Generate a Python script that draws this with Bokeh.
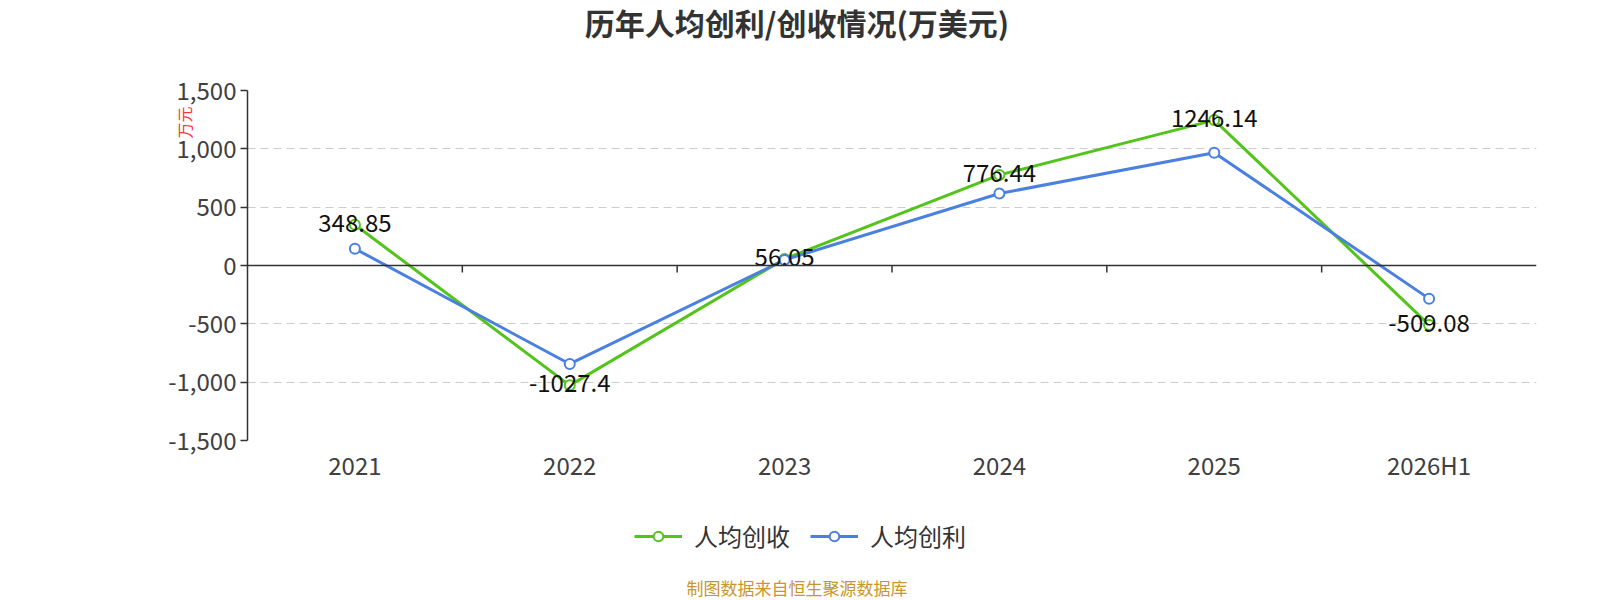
from bokeh.plotting import figure
from bokeh.models import (Range1d, FixedTicker, NumeralTickFormatter, Span, Div,
                          Legend, LegendItem, Title, ColumnDataSource)
from bokeh.layouts import column
from bokeh.embed import file_html
from bokeh.resources import INLINE
from bokeh.core.properties import value
import math

categories = ["2021", "2022", "2023", "2024", "2025", "2026H1"]
revenue_per_capita = [348.85, -1027.4, 56.05, 776.44, 1246.14, -509.08]
profit_per_capita = [144, -844, 48, 617, 967, -284]
y_ticks = [-1500, -1000, -500, 0, 500, 1000, 1500]
series_names = ["人均创收", "人均创利"]

FONT = "Noto Sans CJK SC"
GREEN = "#52c41a"
BLUE = "#4a80e0"
W = 1584
MBL, MBR = 247, 48

xs = [i + 0.5 for i in range(len(categories))]
boundaries = list(range(1, len(categories)))

title_div = Div(text="历年人均创利/创收情况(万美元)", width=W, height=35,
                styles={"text-align": "center", "font-size": "30px", "line-height": "34px",
                        "font-weight": "bold", "color": "#333333", "font-family": FONT})

p = figure(width=W, height=442, output_backend="svg", toolbar_location=None,
           x_range=Range1d(0, len(categories)), y_range=Range1d(-1500, 1500),
           min_border_left=MBL, min_border_right=MBR, min_border_top=45,
           min_border_bottom=47)
p.outline_line_color = None
p.background_fill_color = "white"
p.border_fill_color = "white"

# y axis
ya = p.yaxis[0]
ya.ticker = FixedTicker(ticks=y_ticks)
ya.formatter = NumeralTickFormatter(format="0,0")
ya.major_label_text_font = FONT
ya.major_label_text_font_size = "24px"
ya.major_label_text_color = "#404040"
ya.axis_line_color = "#333333"
ya.axis_line_width = 1.5
ya.major_tick_line_color = "#333333"
ya.major_tick_line_width = 1.5
ya.major_tick_out = 7
ya.major_tick_in = 0
ya.minor_tick_line_color = None
ya.major_label_standoff = 4

# y axis name (red, rotated, near the top)
yname = Title(text="万元", align="right", text_font=FONT, text_font_size="16px",
              text_font_style="normal", text_color="#ff3333", standoff=0)
try:
    yname.offset = 16
except Exception:
    pass
try:
    yname.standoff = -60
except Exception:
    pass
p.add_layout(yname, "left")

# x axis (labels only)
xa = p.xaxis[0]
xa.ticker = FixedTicker(ticks=xs)
xa.major_label_overrides = {x: c for x, c in zip(xs, categories)}
xa.major_label_text_font = FONT
xa.major_label_text_font_size = "24px"
xa.major_label_text_color = "#404040"
xa.axis_line_color = None
xa.major_tick_line_color = None
xa.major_tick_out = 0
xa.major_tick_in = 0
xa.minor_tick_line_color = None
xa.major_label_standoff = 6

# zero line with boundary ticks
p.add_layout(Span(location=0, dimension="width", line_color="#333333", line_width=1.5))
p.ray(x=boundaries, y=[0] * len(boundaries), length=7, length_units="screen",
      angle=-math.pi / 2, line_color="#333333", line_width=1.5)

# grid
p.xgrid.visible = False
p.ygrid.ticker = FixedTicker(ticks=[t for t in y_ticks if t != 0])
p.ygrid.grid_line_color = "#cccccc"
p.ygrid.grid_line_dash = "8 5"
p.ygrid.grid_line_width = 1.2

src = ColumnDataSource(dict(x=xs, rev=revenue_per_capita, prof=profit_per_capita,
                            lbl=[f"{v:g}" for v in revenue_per_capita]))

p.line("x", "rev", source=src, line_color=GREEN, line_width=3)
p.scatter("x", "rev", source=src, size=10, fill_color="white", line_color=GREEN, line_width=2)
p.line("x", "prof", source=src, line_color=BLUE, line_width=3)
p.scatter("x", "prof", source=src, size=10, fill_color="white", line_color=BLUE, line_width=2)

p.text("x", "rev", text="lbl", source=src, text_align="center", text_baseline="middle",
       y_offset=-2, text_font=value(FONT), text_font_size="24px", text_color="#111111")

# legend strip: separate small figure; its series renderers fall outside its range
lg = figure(width=W, height=86, output_backend="svg", toolbar_location=None,
            x_range=Range1d(0, len(categories)), y_range=Range1d(10000, 10001),
            min_border_left=MBL, min_border_right=MBR, min_border_top=10,
            min_border_bottom=0, x_axis_type=None, y_axis_type=None)
lg.outline_line_color = None
lg.xgrid.visible = False
lg.ygrid.visible = False
items = []
for name, col, color in zip(series_names, ["rev", "prof"], [GREEN, BLUE]):
    ln = lg.line("x", col, source=src, line_color=color, line_width=3)
    mk = lg.scatter("x", col, source=src, size=21, fill_color="white",
                    line_color=color, line_width=2)
    items.append(LegendItem(label=name, renderers=[ln, mk]))
legend = Legend(items=items, orientation="horizontal", location=(387, 20),
                label_text_font=FONT, label_text_font_size="24px", label_text_color="#333333",
                glyph_width=48, glyph_height=24, spacing=20, label_standoff=12,
                border_line_color=None, background_fill_alpha=0, margin=0, padding=0)
lg.add_layout(legend)

footer = Div(text="制图数据来自恒生聚源数据库", width=W, height=20,
             styles={"text-align": "center", "font-size": "17px", "line-height": "20px",
                     "color": "#c8962a", "font-family": FONT})

layout = column(title_div, p, lg, footer, spacing=0)
open("out.html", "w").write(file_html(layout, INLINE))
